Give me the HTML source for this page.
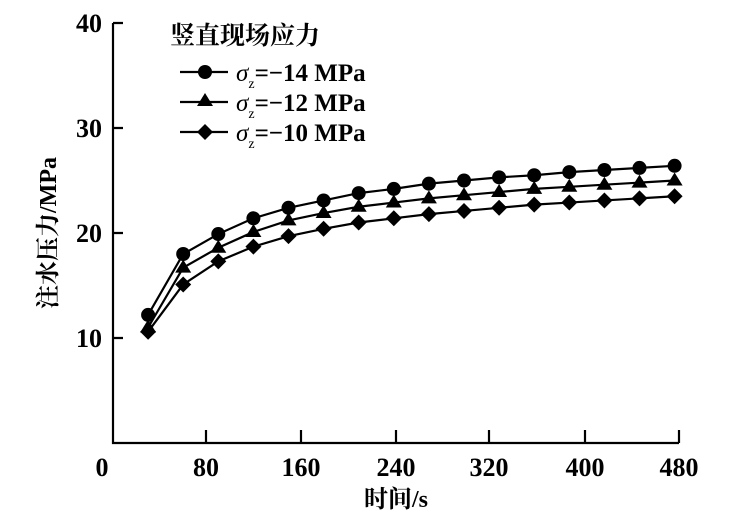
<!DOCTYPE html>
<html><head><meta charset="utf-8"><style>
html,body{margin:0;padding:0;background:#fff;}
svg{display:block;}
text{font-family:"Liberation Serif","Noto Serif CJK SC",serif;font-weight:bold;fill:#000;}
</style></head><body>
<svg width="734" height="521" viewBox="0 0 734 521" xmlns="http://www.w3.org/2000/svg">
<defs>
<marker id="mc" markerUnits="userSpaceOnUse" markerWidth="20" markerHeight="20" refX="10" refY="10" overflow="visible"><circle cx="10" cy="10" r="7" fill="#000"/></marker>
<marker id="mt" markerUnits="userSpaceOnUse" markerWidth="20" markerHeight="20" refX="10" refY="10" overflow="visible"><path d="M10,2 l8,13 h-16z" fill="#000"/></marker>
<marker id="md" markerUnits="userSpaceOnUse" markerWidth="20" markerHeight="20" refX="10" refY="10" overflow="visible"><path d="M10,2 l8,8 l-8,8 l-8,-8z" fill="#000"/></marker>
</defs>
<g stroke="#000" stroke-width="2.2" fill="none">
<path d="M113,23 V443 H679"/>
<path d="M113,23 h10 M113,128 h10 M113,233 h10 M113,338 h10"/>
<path d="M206,443 v-13 M301,443 v-13 M396,443 v-13 M489,443 v-13 M585,443 v-13 M679,443 v-13"/>
</g>
<g font-size="26" text-anchor="end">
<text x="102" y="32">40</text><text x="102" y="137">30</text><text x="102" y="242">20</text><text x="102" y="347">10</text>
</g>
<g font-size="26" text-anchor="middle">
<text x="102" y="476">0</text><text x="206" y="476">80</text><text x="301" y="476">160</text><text x="396" y="476">240</text><text x="489" y="476">320</text><text x="585" y="476">400</text><text x="679" y="476">480</text>
</g>
<text x="396" y="507" font-size="24" text-anchor="middle">时间/s</text>
<text transform="translate(56,233) rotate(-90)" font-size="24" text-anchor="middle">注水压力/MPa</text>
<text x="170" y="44" font-size="25">竖直现场应力</text>
<g fill="none" stroke="#000" stroke-width="2.2">
<polyline marker-start="url(#mc)" marker-mid="url(#mc)" marker-end="url(#mc)" points="148.1,314.9 183.2,254 218.3,234.05 253.4,218.3 288.5,207.8 323.6,200.45 358.7,193.1 393.8,188.9 428.9,183.65 464,180.5 499.1,177.35 534.2,175.25 569.3,172.1 604.4,170 639.5,167.9 674.6,165.8"/>
<polyline marker-start="url(#mt)" marker-mid="url(#mt)" marker-end="url(#mt)" points="148.1,327.5 183.2,267.65 218.3,247.7 253.4,231.95 288.5,220.4 323.6,213.05 358.7,206.75 393.8,202.55 428.9,198.35 464,195.2 499.1,192.05 534.2,188.9 569.3,186.8 604.4,184.7 639.5,182.6 674.6,180.5"/>
<polyline marker-start="url(#md)" marker-mid="url(#md)" marker-end="url(#md)" points="148.1,331.7 183.2,284.45 218.3,261.35 253.4,246.65 288.5,236.15 323.6,228.8 358.7,222.5 393.8,218.3 428.9,214.1 464,210.95 499.1,207.8 534.2,204.65 569.3,202.55 604.4,200.45 639.5,198.35 674.6,196.25"/>
<path d="M180,72 H228 M180,102 H228 M180,132 H228"/>
</g>
<circle cx="205" cy="72" r="7"/>
<path d="M205,93 l8,13 h-16z"/>
<path d="M205,124 l8,8 l-8,8 l-8,-8z"/>
<g font-size="25">
<text x="236" y="81"><tspan font-style="italic" font-weight="normal">σ</tspan><tspan font-size="14" dy="7" font-weight="normal">z</tspan><tspan dy="-7">=−14 MPa</tspan></text>
<text x="236" y="111"><tspan font-style="italic" font-weight="normal">σ</tspan><tspan font-size="14" dy="7" font-weight="normal">z</tspan><tspan dy="-7">=−12 MPa</tspan></text>
<text x="236" y="141"><tspan font-style="italic" font-weight="normal">σ</tspan><tspan font-size="14" dy="7" font-weight="normal">z</tspan><tspan dy="-7">=−10 MPa</tspan></text>
</g>
</svg>
</body></html>
